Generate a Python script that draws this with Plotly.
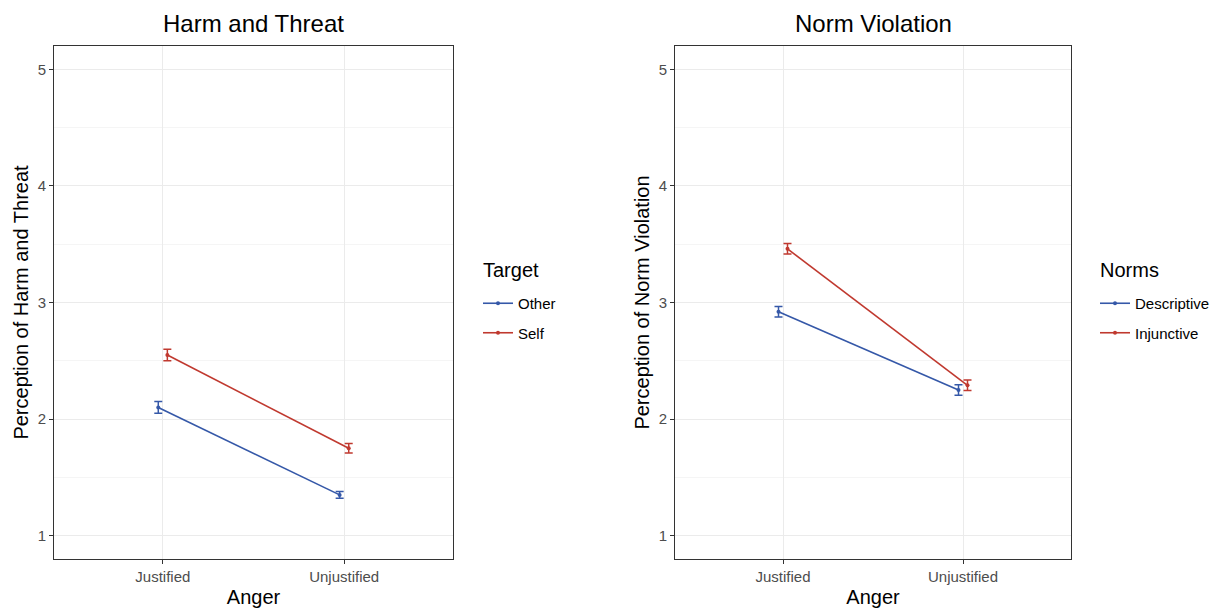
import plotly.graph_objects as go

# Condition levels on the x axis
anger = ["Justified", "Unjustified"]

# Harm and threat: means and standard errors by target
harm_other = [2.10, 1.35]
harm_other_se = [0.05, 0.03]
harm_self = [2.55, 1.75]
harm_self_se = [0.05, 0.04]

# Norm violation: means and standard errors by norm type
norm_desc = [2.92, 2.25]
norm_desc_se = [0.045, 0.045]
norm_inj = [3.46, 2.29]
norm_inj_se = [0.045, 0.045]

y_ticks = [1, 2, 3, 4, 5]

BLUE = "#3558A8"
RED = "#C0392F"
FONT = "Liberation Sans, Arial, sans-serif"
DODGE = 0.025

base_x = list(range(1, len(anger) + 1))


def dodged(offset):
    return [b + offset for b in base_x]


def add_series(fig, means, se, name, color, offset, xaxis, yaxis, legend, group):
    fig.add_trace(go.Scatter(
        x=dodged(offset), y=means, name=name,
        mode="lines+markers",
        line=dict(color=color, width=1.6),
        marker=dict(color=color, size=4),
        error_y=dict(type="data", array=se, visible=True,
                     color=color, thickness=1.5, width=4),
        xaxis=xaxis, yaxis=yaxis, legend=legend, legendgroup=group,
    ))


fig = go.Figure()
add_series(fig, harm_other, harm_other_se, "Other", BLUE, -DODGE, "x", "y", "legend", "a")
add_series(fig, harm_self, harm_self_se, "Self", RED, DODGE, "x", "y", "legend", "b")
add_series(fig, norm_desc, norm_desc_se, "Descriptive", BLUE, -DODGE, "x2", "y2", "legend2", "c")
add_series(fig, norm_inj, norm_inj_se, "Injunctive", RED, DODGE, "x2", "y2", "legend2", "d")

W, H = 1223, 609
y_dom = [1 - 559 / H, 1 - 46 / H]
x1_dom = [54 / W, 453 / W]
x2_dom = [675 / W, 1071 / W]

TICK_FONT = dict(family=FONT, size=15, color="#4D4D4D")
AXIS_TITLE = dict(family=FONT, size=20, color="#000000")

xaxis_common = dict(
    range=[0.4, 2.6], tickvals=base_x, ticktext=anger,
    showgrid=True, gridcolor="#EBEBEB", gridwidth=1,
    showline=True, mirror=True, linecolor="#333333", linewidth=1,
    ticks="outside", ticklen=4, tickcolor="#333333",
    tickfont=TICK_FONT,
    title=dict(text="Anger", font=AXIS_TITLE, standoff=5),
    zeroline=False,
)
yaxis_common = dict(
    range=[0.8, 5.2], tickvals=y_ticks,
    showgrid=True, gridcolor="#EBEBEB", gridwidth=1,
    minor=dict(dtick=0.5, tick0=0.5, showgrid=True, gridcolor="#F5F5F5", gridwidth=1, ticks=""),
    showline=True, mirror=True, linecolor="#333333", linewidth=1,
    ticks="outside", ticklen=4, tickcolor="#333333",
    tickfont=TICK_FONT,
    zeroline=False, domain=y_dom,
)

LEGEND_COMMON = dict(
    font=dict(family=FONT, size=15),
    xanchor="left", y=1 - 287 / H, yanchor="top",
    traceorder="grouped", tracegroupgap=7,
    bgcolor="rgba(0,0,0,0)", itemwidth=30,
)


def legend_heading(text, x_px):
    return dict(text=text, x=x_px / W, y=1 - 270 / H,
                xref="paper", yref="paper", xanchor="left", yanchor="middle",
                showarrow=False, font=dict(family=FONT, size=20, color="#000000"))


def panel_title(text, dom):
    return dict(text=text, x=sum(dom) / 2, y=1 - 24 / H,
                xref="paper", yref="paper", xanchor="center", yanchor="middle",
                showarrow=False, font=dict(family=FONT, size=24, color="#000000"))


fig.update_layout(
    width=W, height=H,
    margin=dict(l=0, r=0, t=0, b=0),
    paper_bgcolor="white", plot_bgcolor="white",
    font=dict(family=FONT, color="#000000"),
    xaxis=dict(xaxis_common, domain=x1_dom, anchor="y"),
    yaxis=dict(yaxis_common, anchor="x",
               title=dict(text="Perception of Harm and Threat", font=AXIS_TITLE, standoff=3)),
    xaxis2=dict(xaxis_common, domain=x2_dom, anchor="y2"),
    yaxis2=dict(yaxis_common, anchor="x2",
                title=dict(text="Perception of Norm Violation", font=AXIS_TITLE, standoff=3)),
    legend=dict(LEGEND_COMMON, x=478 / W),
    legend2=dict(LEGEND_COMMON, x=1095 / W),
    annotations=[
        panel_title("Harm and Threat", x1_dom),
        panel_title("Norm Violation", x2_dom),
        legend_heading("Target", 481),
        legend_heading("Norms", 1098),
    ],
)

fig.write_html("out.html")
